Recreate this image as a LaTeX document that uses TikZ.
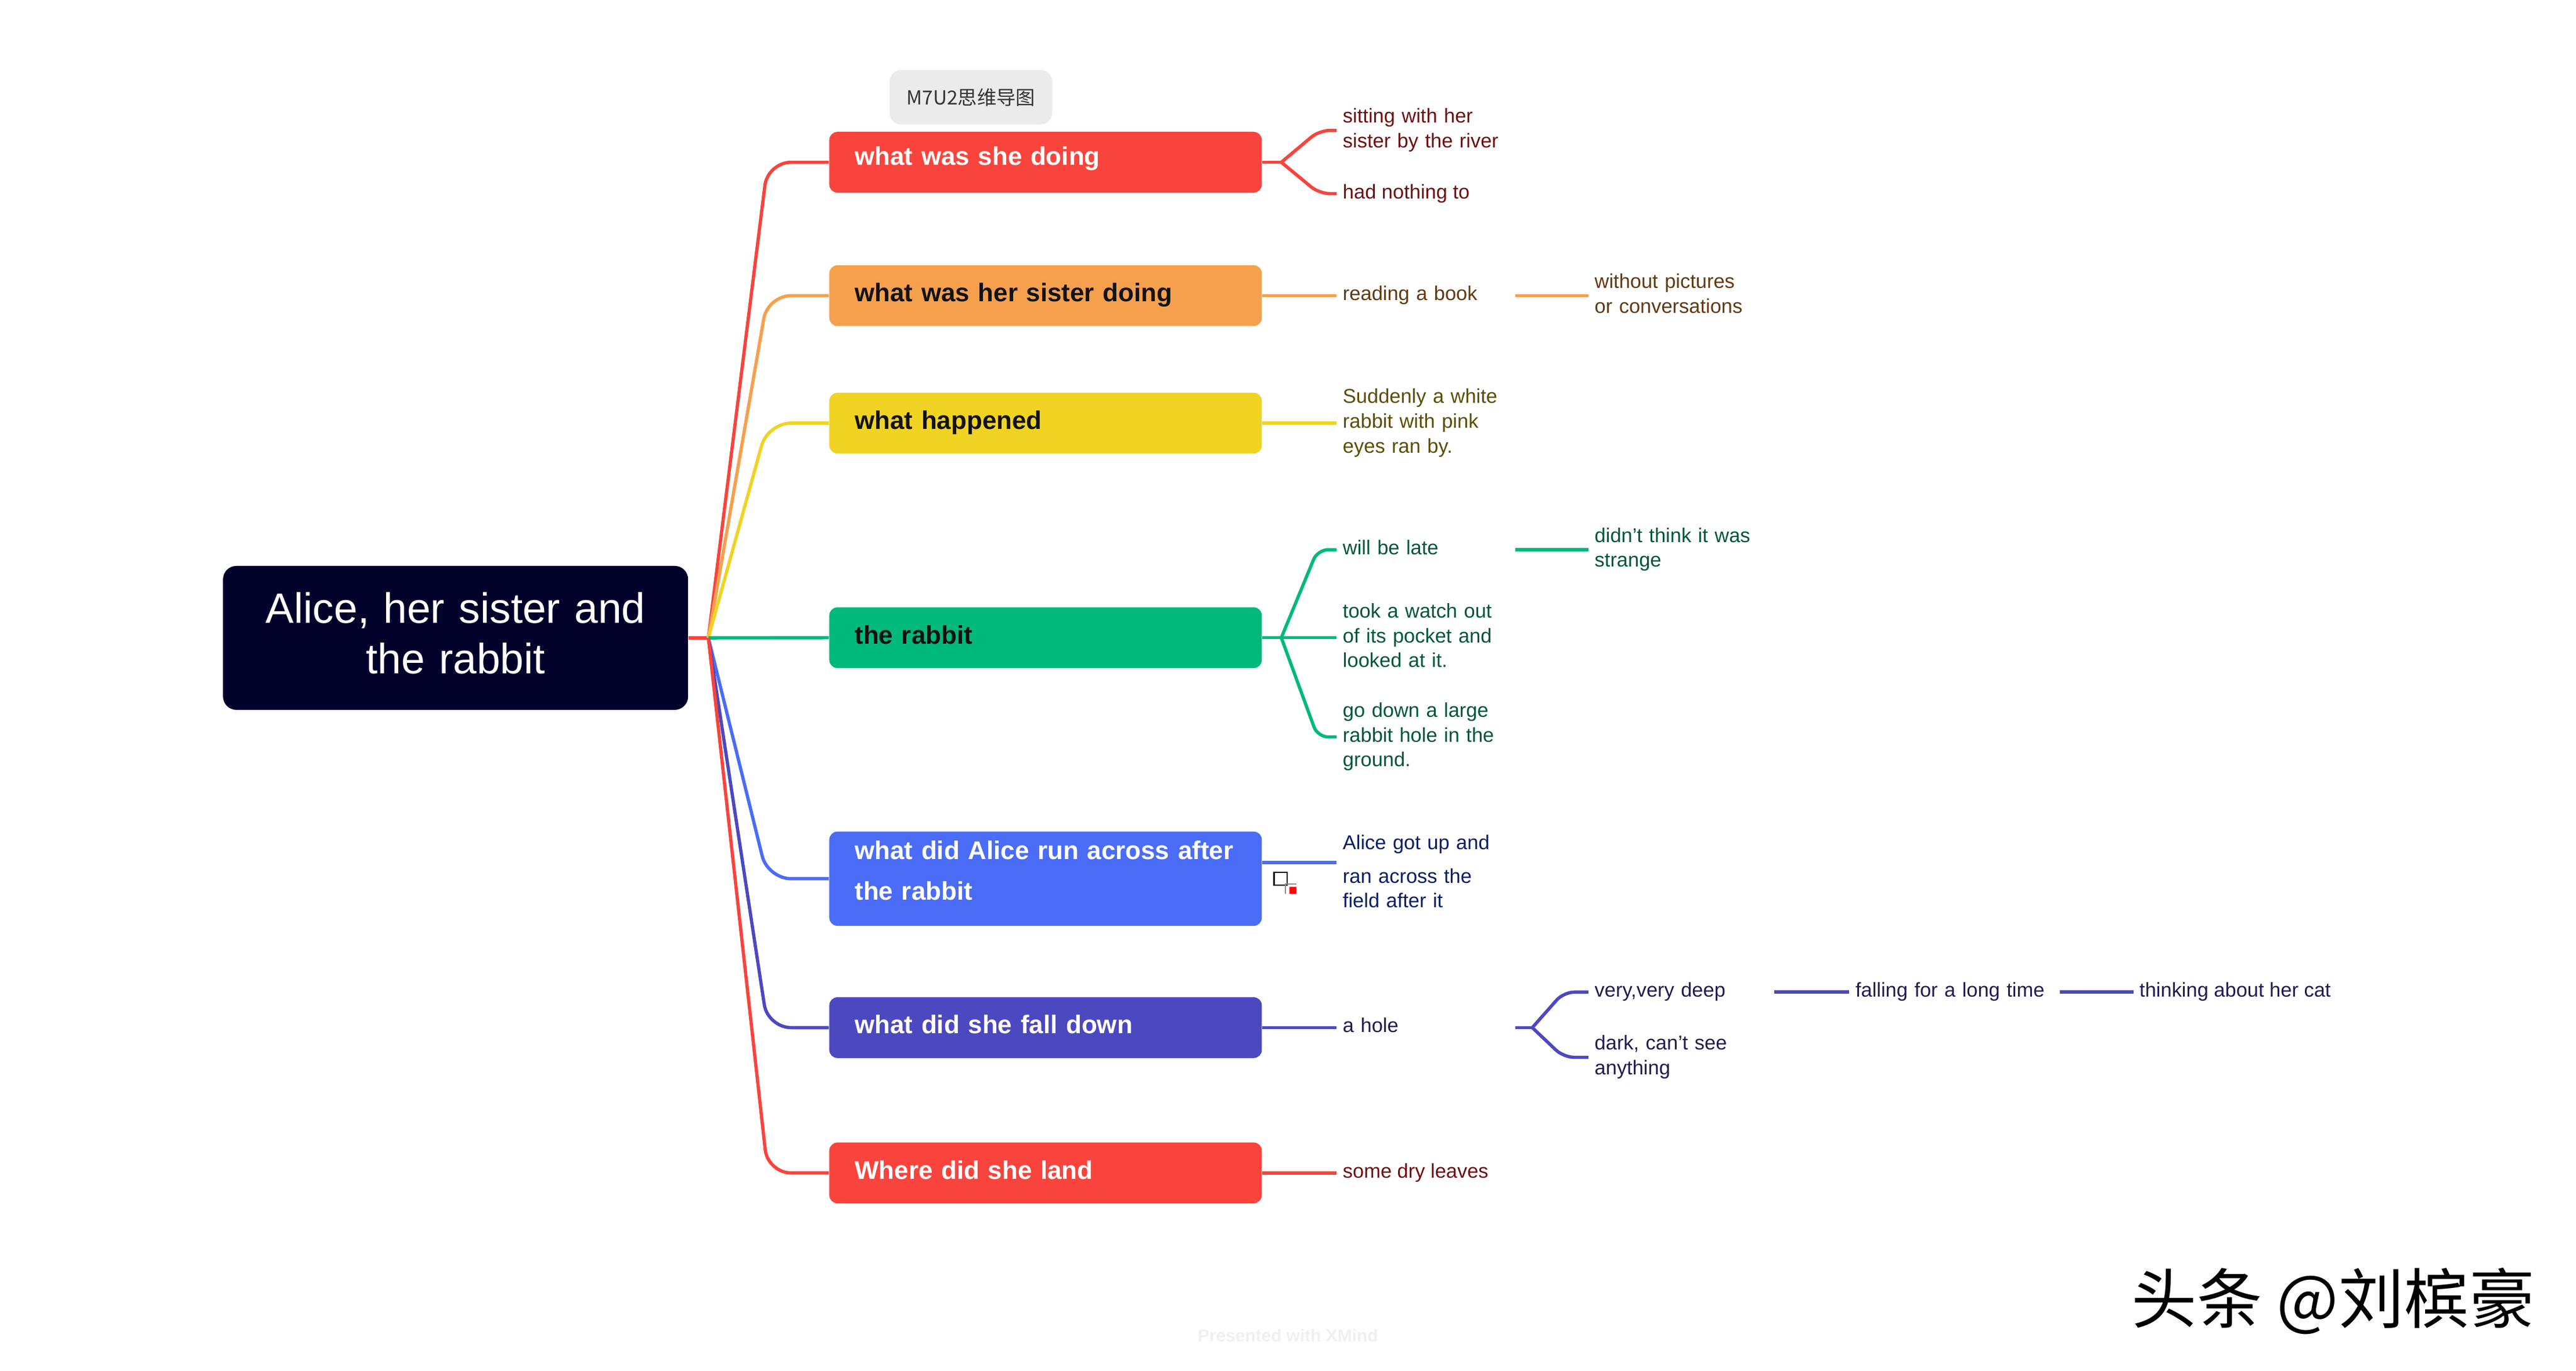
\documentclass[tikz,border=0pt]{standalone}
\usepackage{fontspec}
\setmainfont{Liberation Sans}
\newfontfamily\cjkfont{Noto Sans CJK SC}
\usetikzlibrary{positioning}
\definecolor{cred}{HTML}{F8443C}
\definecolor{corange}{HTML}{F5A04D}
\definecolor{cyellow}{HTML}{F0D323}
\definecolor{cgreen}{HTML}{00B97A}
\definecolor{cblue}{HTML}{4A6CF7}
\definecolor{cindigo}{HTML}{4C48C0}
\definecolor{croot}{HTML}{02022A}
\definecolor{ctag}{HTML}{EBEBEB}
\definecolor{tred}{HTML}{6E1010}
\definecolor{tbrown}{HTML}{613A13}
\definecolor{tolive}{HTML}{5B4E07}
\definecolor{tgreen}{HTML}{00573A}
\definecolor{tblue}{HTML}{0A1F66}
\definecolor{tindigo}{HTML}{1F1D4F}
\tikzset{
    rootnode/.style = {rectangle, rounded corners=2.3mm, fill=croot, text=white, minimum width=80.1mm, minimum height=24.8mm, inner xsep=8pt, inner ysep=0pt, text width=70mm, align=center, text height=15pt, text depth=29.5pt, font=\fontsize{20.8}{24.8}\selectfont},
    topic/.style = {rectangle, rounded corners=1.4mm, anchor=west, minimum width=74.5mm, minimum height=10.47mm, inner xsep=4.4mm, inner ysep=0pt, text width=65.7mm, align=left, text height=9pt, text depth=3pt, font=\bfseries\fontsize{12.5}{15}\selectfont},
    topicw/.style = {topic, text=white},
    topick/.style = {topic, text=black!93},
    tagnode/.style = {rectangle, rounded corners=2mm, fill=ctag, minimum width=28mm, minimum height=9.4mm, text=black!80, font=\cjkfont\fontsize{9.5}{11}\selectfont},
    leaf/.style = {anchor=west, inner xsep=1mm, inner ysep=0pt, align=left, text height=7.2pt, text depth=2.4pt, font=\fontsize{9.8}{12.2}\selectfont},
    leafii/.style = {leaf, text width=30mm, text depth=14.6pt},
    leafiii/.style = {leaf, text width=30mm, text depth=26.8pt},
    edger/.style = {line width=1.6pt, cred},
    edgeo/.style = {line width=1.6pt, corange},
    edgey/.style = {line width=1.6pt, cyellow},
    edgeg/.style = {line width=1.6pt, cgreen},
    edgeb/.style = {line width=1.6pt, cblue},
    edgei/.style = {line width=1.6pt, cindigo}
}
\begin{document}
\begin{tikzpicture}[x=0.2844mm, y=-0.2844mm]
\fill[white] (0, 0) rectangle (1560.1, 830.5);
\useasboundingbox (0, 0) rectangle (1560.1, 830.5);
%
\node[tagnode] at (588, 58.9) (tag) {M7U2思维导图};
\node[rootnode] at (275.9, 386.4) (root) {Alice, her sister and\\the rabbit};
\node[topicw, fill=cred, text depth=6pt] at (502, 98.3) (b1) {what was she doing};
\node[topick, fill=corange] at (502, 179.1) (b2) {what was her sister doing};
\node[topick, fill=cyellow] at (502, 256.3) (b3) {what happened};
\node[topick, fill=cgreen] at (502, 386.3) (b4) {the rabbit};
\node[topicw, fill=cblue, minimum height=16.24mm, text depth=28pt] at (502, 532.3) (b5) {what did Alice run across after\\[5pt]the rabbit};
\node[topicw, fill=cindigo] at (502, 622.5) (b6) {what did she fall down};
\node[topicw, fill=cred] at (502, 710.5) (b7) {Where did she land};
%
\coordinate (hub) at (429, 386.4);
\draw[edger] (root.east) -- (hub);
\draw[edger, rounded corners=4mm] (hub) -- (465, 98.3) -- (b1.west);
\draw[edgeo, rounded corners=4mm] (hub) -- (465, 179.1) -- (b2.west);
\draw[edgey, rounded corners=4mm] (hub) -- (465, 256.3) -- (b3.west);
\draw[edgeg] (hub) -- (b4.west);
\draw[edgeb, rounded corners=4mm] (hub) -- (465, 532.3) -- (b5.west);
\draw[edgei, rounded corners=4mm] (hub) -- (465, 622.5) -- (b6.west);
\draw[edger, rounded corners=4mm] (hub) -- (465, 710.5) -- (b7.west);
%
\coordinate (f1) at (776, 98.3);
\node[leafii, text=tred] at (809.5, 79) (l11) {sitting with her\\sister by the river};
\node[leaf, text=tred] at (809.5, 117.3) (l12) {had nothing to};
\draw[edger] (b1.east) -- (f1);
\draw[edger, rounded corners=1.8mm] (f1) -- (799, 79) -- (l11.west);
\draw[edger, rounded corners=1.8mm] (f1) -- (799, 117.3) -- (l12.west);
%
\node[leaf, text width=28.6mm, text=tbrown] at (809.5, 179.1) (l21) {reading a book};
\node[leafii, text=tbrown] at (962, 179.1) (l22) {without pictures\\or conversations};
\draw[edgeo] (b2.east) -- (l21.west);
\draw[edgeo] (l21.east) -- (l22.west);
%
\node[leafiii, text=tolive] at (809.5, 256.3) (l31) {Suddenly a white\\rabbit with pink\\eyes ran by.};
\draw[edgey] (b3.east) -- (l31.west);
%
\coordinate (f4) at (776, 386.3);
\node[leaf, text width=28.6mm, text=tgreen] at (809.5, 333) (l41) {will be late};
\node[leafiii, text=tgreen] at (809.5, 386.3) (l42) {took a watch out\\of its pocket and\\looked at it.};
\node[leafiii, text=tgreen] at (809.5, 446.4) (l43) {go down a large\\rabbit hole in the\\ground.};
\node[leafii, text=tgreen] at (962, 333) (l44) {didn't think it was\\strange};
\draw[edgeg] (b4.east) -- (f4);
\draw[edgeg, rounded corners=1.8mm] (f4) -- (798, 333) -- (l41.west);
\draw[edgeg] (f4) -- (l42.west);
\draw[edgeg, rounded corners=1.8mm] (f4) -- (798, 446.4) -- (l43.west);
\draw[edgeg] (l41.east) -- (l44.west);
%
\node[leaf, text width=30mm, text depth=20.1pt, text=tblue] at (809.5, 522.5) (l51) {Alice got up and\\[4.2pt]ran across the\\field after it};
\draw[edgeb] (b5.east |- l51.west) -- (l51.west);
\draw[black, line width=0.75pt] (771.5, 528.5) rectangle (779.5, 536.2);
\draw[black!45, line width=0.6pt] (778.6, 541.5) -- (778.6, 535.4) -- (785, 535.4);
\fill[red] (780.8, 537.4) rectangle (785.1, 541.5);
%
\coordinate (f6) at (928, 622.5);
\node[leaf, text width=28.6mm, text=tindigo] at (809.5, 622.5) (l61) {a hole};
\node[leaf, text width=29.9mm, text=tindigo] at (962, 601) (l62) {very,very deep};
\node[leafii, text=tindigo] at (962, 640.5) (l63) {dark, can't see\\anything};
\node[leaf, text width=34.1mm, text=tindigo] at (1120, 601) (l64) {falling for a long time};
\node[leaf, text=tindigo] at (1292, 601) (l65) {thinking about her cat};
\draw[edgei] (b6.east) -- (l61.west);
\draw[edgei] (l61.east) -- (f6);
\draw[edgei, rounded corners=1.8mm] (f6) -- (947, 601) -- (l62.west);
\draw[edgei, rounded corners=1.8mm] (f6) -- (947, 640.5) -- (l63.west);
\draw[edgei] (l62.east) -- (l64.west);
\draw[edgei] (l64.east) -- (l65.west);
%
\node[leaf, text=tred] at (809.5, 710.5) (l71) {some dry leaves};
\draw[edger] (b7.east) -- (l71.west);
%
\node[font=\bfseries\fontsize{8.5}{10}\selectfont, text=black!6] at (780, 809) (xmind) {Presented with XMind};
\node[font=\cjkfont\fontsize{32}{36}\selectfont] at (1413, 788) (author) {头条 @刘槟豪};

\end{tikzpicture}
\end{document}
